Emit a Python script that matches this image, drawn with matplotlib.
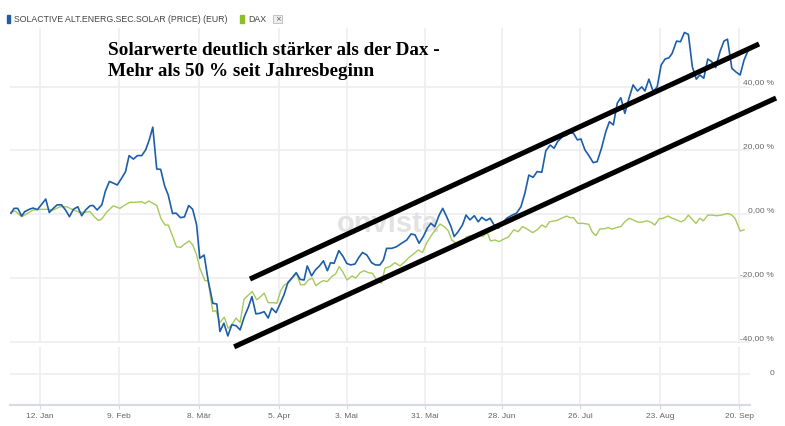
import matplotlib
matplotlib.use("Agg")
import matplotlib.pyplot as plt
from matplotlib.patches import Rectangle

# x = trading day since start of year, y = change in %
solar_day = [0.0, 0.8, 1.7, 2.7, 3.5, 4.8, 5.6, 6.7, 7.8, 8.8, 9.7, 10.7, 11.7, 12.8, 13.8, 14.8,
             15.8, 16.9, 17.9, 18.9, 20.0, 20.8, 21.8, 23.0, 23.9, 24.9, 25.9, 26.9, 28.0, 29.0,
             29.9, 31.0, 32.0, 33.1, 34.1, 35.0, 35.9, 36.9, 37.9, 38.9, 39.8, 40.9, 41.8, 42.9,
             43.9, 45.0, 46.0, 47.0, 47.8, 48.9, 49.9, 51.1, 52.1, 52.9, 53.9, 54.9, 55.9, 57.0,
             58.0, 59.1, 60.1, 61.0, 62.0, 63.0, 64.1, 65.1, 66.0, 67.1, 68.1, 69.1, 70.1, 71.1,
             72.2, 73.2, 74.2, 75.0, 76.1, 77.1, 78.1, 79.1, 80.1, 80.9, 81.8, 83.0, 84.1, 85.0,
             86.0, 87.1, 88.1, 89.0, 90.1, 91.3, 92.3, 93.4, 94.3, 95.1, 96.4, 97.6, 98.9, 100.2,
             101.3, 102.3, 103.3, 104.4, 105.4, 106.3, 107.3, 108.4, 109.3, 110.3, 111.4, 112.2,
             113.2, 114.3, 115.2, 116.2, 117.3, 118.3, 119.2, 120.3, 121.3, 122.3, 123.4, 124.4,
             125.5, 126.9, 128.0, 129.1, 130.1, 131.1, 132.2, 133.2, 134.4, 135.4, 136.5, 137.5,
             138.4, 139.6, 140.7, 141.3, 142.4, 143.4, 144.3, 145.3, 146.3, 147.4, 148.4, 149.5,
             150.6, 151.5, 152.5, 153.5, 154.4, 155.4, 156.5, 157.5, 158.6, 159.7, 160.5, 161.5,
             162.6, 163.6, 164.6, 165.6, 166.6, 167.4, 168.5, 169.5, 170.5, 171.5, 172.5, 173.5,
             174.4, 175.4, 176.4, 177.4, 178.4, 179.5, 180.5, 181.4, 182.5, 183.5, 184.6, 185.6,
             186.5]
solar_pct = [0.4, 1.9, 1.9, -0.5, 0.9, 1.7, 2.0, 1.5, 3.2, 4.8, 0.6, 1.9, 3.0, 3.0, 1.4, -0.7,
             1.6, 2.4, -0.4, 1.4, 2.7, 2.8, 1.4, 3.0, 7.3, 10.3, 9.8, 9.2, 11.3, 13.4,
             18.4, 17.3, 18.4, 18.4, 20.2, 23.3, 27.3, 14.2, 14.1, 8.9, 6.1, 0.3, 0.4, -1.0,
             -0.8, 2.8, 1.6, -3.3, -13.7, -12.7, -20.5, -27.8, -28.0, -36.6, -34.0, -38.0, -34.5, -34.8,
             -36.1, -31.9, -29.0, -25.7, -31.1, -30.9, -30.4, -32.4, -29.3, -30.7, -28.0, -25.2, -21.3, -19.9,
             -18.2, -20.3, -20.5, -16.1, -19.2, -17.3, -16.1, -14.5, -17.6, -15.1, -15.3, -11.3, -13.2, -15.3,
             -15.8, -15.5, -13.4, -11.9, -12.7, -15.1, -15.8, -15.8, -14.2, -10.6, -10.6, -10.1, -9.0, -8.0,
             -6.1, -6.4, -9.0, -6.9, -4.3, -2.8, -3.8, -0.2, 1.9, -0.7, -3.8, -6.9,
             -5.4, -3.3, -0.2, -1.7, -0.4, -2.3, -0.9, -1.9, -1.2, -3.3, -4.3, -2.7,
             -1.2, -0.2, 0.4, 2.4, 6.6, 12.3, 11.6, 13.4, 13.2, 19.9, 21.7, 20.7,
             22.8, 24.3, 24.8, 25.4, 25.4, 23.3, 23.6, 20.2, 18.4, 16.2, 16.5, 20.7,
             25.9, 29.0, 28.0, 34.8, 36.5, 31.6, 36.5, 40.5, 38.6, 39.9, 38.6, 42.3,
             38.4, 39.9, 46.7, 48.6, 49.0, 50.4, 54.2, 54.0, 56.9, 56.3, 46.2, 42.3,
             43.6, 42.6, 48.6, 47.8, 45.9, 50.9, 54.2, 54.8, 45.7, 44.6, 43.6, 48.3,
             50.9]

dax_day = [0.0, 1.0, 2.7, 4.0, 5.6, 7.3, 9.0, 10.7, 12.4, 14.1, 15.8, 17.5, 18.7, 20.0, 21.1, 22.1,
           23.0, 24.2, 25.9, 27.6, 28.9, 30.1, 31.8, 33.1, 33.9, 34.9, 36.9, 38.0, 39.0, 39.8,
           40.8, 41.9, 43.0, 43.9, 45.1, 46.0, 47.0, 47.8, 49.1, 49.9, 51.1, 51.9, 52.9, 54.0,
           55.0, 55.9, 57.0, 58.0, 59.0, 60.1, 61.1, 62.2, 63.2, 64.1, 65.1, 66.4, 67.3, 68.3,
           69.2, 70.2, 71.3, 72.3, 73.3, 74.3, 75.3, 76.3, 77.2, 78.2, 79.1, 80.1, 81.2, 82.2,
           83.1, 84.1, 85.1, 86.3, 87.3, 88.4, 89.4, 90.5, 91.5, 92.6, 93.8, 94.7, 95.9, 97.2,
           98.5, 99.7, 100.8, 102.0, 103.1, 104.2, 105.2, 106.5, 107.6, 108.6, 109.7, 110.7,
           111.6, 113.2, 114.4, 115.2, 116.2, 117.3, 118.3, 119.4, 120.6, 121.4, 122.5, 123.6,
           124.6, 125.9, 127.3, 128.4, 129.5, 130.7, 132.1, 133.2, 134.4, 135.4, 136.3, 138.2,
           139.4, 140.7, 141.5, 142.4, 143.5, 144.9, 146.3, 147.2, 148.1, 149.1, 150.2, 151.2,
           152.2, 153.3, 154.4, 155.4, 156.5, 157.5, 158.7, 159.8, 160.9, 162.0, 163.0, 164.1,
           165.1, 166.3, 167.4, 168.5, 169.6, 170.6, 171.5, 172.6, 173.4, 174.4, 175.3, 176.4,
           177.4, 178.7, 179.9, 181.4, 182.5, 183.3, 184.0, 184.6, 185.6]
dax_pct = [0.7, 1.1, -0.7, 0.2, 1.4, 1.6, 1.6, 1.4, 2.4, 2.4, 1.4, 0.6, 0.7, 0.9, -0.7, -1.9,
           -1.4, 0.7, 2.7, 1.9, 3.0, 3.8, 3.8, 4.0, 3.4, 4.2, 2.8, -1.4, -3.3, -3.3,
           -6.4, -10.1, -10.3, -9.3, -8.3, -9.5, -12.7, -16.8, -20.7, -20.7, -30.4, -30.1, -33.8, -32.1,
           -35.6, -34.5, -32.4, -33.8, -26.5, -25.2, -24.1, -26.7, -25.7, -24.6, -27.6, -27.6, -27.8, -23.8,
           -22.0, -21.5, -19.9, -18.4, -22.0, -22.0, -20.5, -19.9, -22.3, -21.3, -20.7, -21.0, -19.4, -18.6,
           -16.3, -18.2, -20.5, -19.2, -19.9, -18.2, -17.6, -18.2, -18.4, -20.5, -21.5, -16.8, -16.3, -15.1,
           -16.1, -14.8, -13.4, -12.3, -11.1, -11.9, -9.0, -6.4, -4.6, -3.0, -3.8, -5.1,
           -8.0, -9.5, -9.0, -7.1, -6.7, -7.4, -6.4, -6.9, -5.7, -8.3, -8.0, -8.5,
           -7.8, -7.1, -4.8, -5.4, -3.8, -4.6, -5.7, -4.8, -3.3, -4.0, -2.3, -1.9,
           -1.2, -0.5, -1.0, -1.0, -2.8, -2.8, -3.1, -5.6, -6.6, -4.5, -4.5, -4.1,
           -4.6, -4.1, -3.8, -2.3, -1.2, -1.7, -2.4, -2.4, -2.0, -2.4, -3.3, -1.4,
           -1.2, -0.5, -1.2, -1.7, -2.3, -1.7, -0.2, -1.7, -2.8, -1.2, -2.0, -0.2,
           -0.2, -0.4, -0.2, 0.3, -0.2, -1.2, -3.3, -5.2, -4.8]

tick_day = [7.3, 27.4, 47.7, 67.8, 85.0, 104.8, 124.2, 144.1, 164.3, 184.4]
tick_labels = ["12. Jan", "9. Feb", "8. Mär", "5. Apr", "3. Mai", "31. Mai",
               "28. Jun", "26. Jul", "23. Aug", "20. Sep"]
y_ticks = [-40, -20, 0, 20, 40]
y_labels = ["-40,00 %", "-20,00 %", "0,00 %", "20,00 %", "40,00 %"]

# hand drawn trend channel (start, end)
upper_x, upper_y = [60.5, 189.4], [-20.2, 53.3]
lower_x, lower_y = [56.5, 193.7], [-41.4, 36.4]

blue = "#1d5ea8"
green = "#a6c95b"
grid_c = "#eeeeee"
txt_c = "#666666"

W, H = 785, 426
fig = plt.figure(figsize=(W / 100, H / 100), dpi=100)
xlim = (-0.25, 187.1)

# lower (volume) panel, drawn first so the channel line can overlap it
ax2 = fig.add_axes([10 / W, 1 - 405 / H, 740 / W, 58 / H])
ax2.set_xlim(*xlim)
ax2.set_ylim(-31, 27)
for k in ["top", "left", "right"]:
    ax2.spines[k].set_visible(False)
ax2.spines["bottom"].set_color("#d5dbe5")
ax2.spines["bottom"].set_linewidth(1.5)
ax2.set_xticks(tick_day)
ax2.set_xticklabels(tick_labels, fontsize=6, family="Liberation Sans", color=txt_c)
ax2.set_yticks([0])
ax2.tick_params(axis="y", length=0, labelleft=False)
ax2.tick_params(axis="x", length=3, color="#d5dbe5", pad=2.5)
ax2.grid(True, color=grid_c, lw=1.2)
ax2.annotate("0", xy=(1, 0), xycoords=("axes fraction", "data"), xytext=(17.3, 0.5),
             textcoords="offset points", ha="right", va="center", fontsize=6,
             family="Liberation Sans", color=txt_c)

ax = fig.add_axes([10 / W, 1 - 343 / H, 740 / W, 315 / H])
ax.set_zorder(2)
ax.patch.set_visible(False)
ax.set_xlim(*xlim)
ax.set_ylim(-40.2, 58.3)
for s in ax.spines.values():
    s.set_visible(False)
ax.set_xticks(tick_day)
ax.set_yticks(y_ticks)
ax.tick_params(length=0, labelbottom=False, labelleft=False)
ax.grid(True, color=grid_c, lw=1.2)
ax.set_axisbelow(True)

ax.text(388 / W, 1 - 232 / H, "onvista", transform=fig.transFigure, ha="center", va="baseline",
        fontsize=21, fontweight="bold", family="Liberation Sans", color="#e2e2e2", zorder=1)

ax.plot(dax_day, dax_pct, color=green, lw=1.0, zorder=2)
ax.plot(solar_day, solar_pct, color=blue, lw=1.2, zorder=3)

ax.plot(upper_x, upper_y, color="black", lw=3.7, solid_capstyle="butt", clip_on=False, zorder=5)
ax.plot(lower_x, lower_y, color="black", lw=3.7, solid_capstyle="butt", clip_on=False, zorder=5)

for v, lab in zip(y_ticks, y_labels):
    ax.annotate(lab, xy=(1, v), xycoords=("axes fraction", "data"), xytext=(17.3, 3),
                textcoords="offset points", ha="right", va="center", fontsize=6,
                family="Liberation Sans", color=txt_c)

# legend row
fig.patches.append(Rectangle((7 / W, 1 - 23 / H), 3 / W, 8 / H, transform=fig.transFigure,
                             color=blue))
fig.text(14 / W, 1 - 19 / H, "SOLACTIVE ALT.ENERG.SEC.SOLAR (PRICE) (EUR)", fontsize=6.3,
         family="Liberation Sans", color="#444444", va="center", ha="left")
fig.patches.append(Rectangle((240 / W, 1 - 23 / H), 4 / W, 8 / H, transform=fig.transFigure,
                             color="#8cbf26"))
fig.text(248 / W, 1 - 19 / H, "DAX", fontsize=6.3, family="Liberation Sans", color="#444444",
         va="center", ha="left")
fig.patches.append(Rectangle((273 / W, 1 - 23 / H), 9 / W, 8 / H, transform=fig.transFigure,
                             facecolor="#eeeeee", edgecolor="#bbbbbb", lw=0.6))
fig.text(277.5 / W, 1 - 19 / H, "×", fontsize=5, color="#555555", ha="center", va="center")

# title
fig.text(108 / W, 1 - 55 / H, "Solarwerte deutlich stärker als der Dax -", fontsize=13.8,
         family="Liberation Serif", fontweight="bold", color="black", va="baseline")
fig.text(108 / W, 1 - 76 / H, "Mehr als 50 % seit Jahresbeginn", fontsize=13.8,
         family="Liberation Serif", fontweight="bold", color="black", va="baseline")

fig.savefig("out.png", dpi=100)
